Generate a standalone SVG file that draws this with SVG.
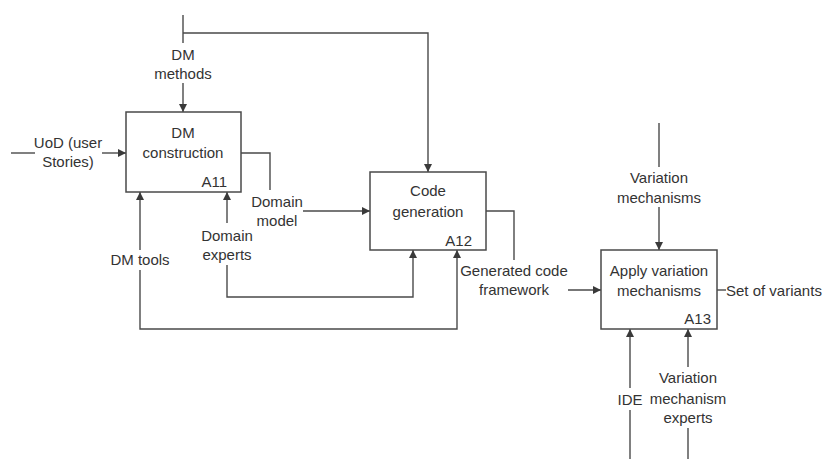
<svg xmlns="http://www.w3.org/2000/svg" width="824" height="459" viewBox="0 0 824 459">
  <defs>
    <marker id="arrow" viewBox="0 0 8 8" refX="8" refY="4" markerWidth="8" markerHeight="8" markerUnits="userSpaceOnUse" orient="auto">
      <path d="M0,0 L8,4 L0,8 Z" fill="#3a3a3a"/>
    </marker>
  </defs>
  <style>
    .box { fill: #ffffff; stroke: #4a4a4a; stroke-width: 1.5; }
    .line { fill: none; stroke: #4a4a4a; stroke-width: 1.4; }
    .arr { marker-end: url(#arrow); }
    text { font-family: "Liberation Sans", Arial, sans-serif; font-size: 15px; fill: #333333; }
    .c { text-anchor: middle; }
    .r { text-anchor: end; }
  </style>
  <rect width="824" height="459" fill="#ffffff"/>

  <!-- connectors -->
  <g id="connectors">
    <!-- DM methods control, shared with code generation -->
    <path class="line" d="M183,15 V43"/>
    <path class="line arr" d="M183,83 V112"/>
    <path class="line arr" d="M183,33 H428 V172"/>
    <!-- UoD input -->
    <path class="line" d="M11,153 H35"/>
    <path class="line arr" d="M102,153 H126"/>
    <!-- Domain model output to A12 -->
    <path class="line" d="M241,153 H270 V190"/>
    <path class="line arr" d="M303,211 H370"/>
    <!-- DM tools mechanism -->
    <path class="line arr" d="M140,250 V192"/>
    <path class="line arr" d="M140,270 V329 H457 V250"/>
    <!-- Domain experts mechanism -->
    <path class="line arr" d="M227,223 V192"/>
    <path class="line arr" d="M227,265 V297 H413 V250"/>
    <!-- Generated code framework -->
    <path class="line" d="M486,211 H514 V260"/>
    <path class="line arr" d="M568,290 H601"/>
    <!-- Variation mechanisms control -->
    <path class="line" d="M659,123 V167"/>
    <path class="line arr" d="M659,207 V250"/>
    <!-- Set of variants output -->
    <path class="line" d="M717,290 H726"/>
    <!-- IDE mechanism -->
    <path class="line arr" d="M630,388 V329"/>
    <path class="line" d="M630,410 V459"/>
    <!-- Variation mechanism experts -->
    <path class="line arr" d="M688,367 V329"/>
    <path class="line" d="M688,428 V459"/>
  </g>

  <!-- connector labels -->
  <g id="labels">
    <text class="c" x="183" y="60">DM</text>
    <text class="c" x="183" y="79">methods</text>
    <text class="c" x="68" y="148">UoD (user</text>
    <text class="c" x="68" y="167">Stories)</text>
    <text class="c" x="277" y="207">Domain</text>
    <text class="c" x="277" y="226">model</text>
    <text class="c" x="140" y="265">DM tools</text>
    <text class="c" x="227" y="241">Domain</text>
    <text class="c" x="227" y="260">experts</text>
    <text class="c" x="514" y="276">Generated code</text>
    <text class="c" x="514" y="295">framework</text>
    <text class="c" x="659" y="183">Variation</text>
    <text class="c" x="659" y="203">mechanisms</text>
    <text x="726" y="296">Set of variants</text>
    <text class="c" x="630" y="405">IDE</text>
    <text class="c" x="688" y="383">Variation</text>
    <text class="c" x="688" y="404">mechanism</text>
    <text class="c" x="688" y="423">experts</text>
  </g>

  <g id="A11">
    <rect class="box" x="126" y="112" width="115" height="80"/>
    <text class="c" x="183" y="138">DM</text>
    <text class="c" x="183" y="158">construction</text>
    <text class="r" x="227" y="187">A11</text>
  </g>

  <g id="A12">
    <rect class="box" x="370" y="172" width="116" height="78"/>
    <text class="c" x="428" y="196">Code</text>
    <text class="c" x="428" y="217">generation</text>
    <text class="r" x="472" y="246">A12</text>
  </g>

  <g id="A13">
    <rect class="box" x="601" y="250" width="116" height="79"/>
    <text class="c" x="659" y="276">Apply variation</text>
    <text class="c" x="659" y="296">mechanisms</text>
    <text class="r" x="711" y="324">A13</text>
  </g>
</svg>
